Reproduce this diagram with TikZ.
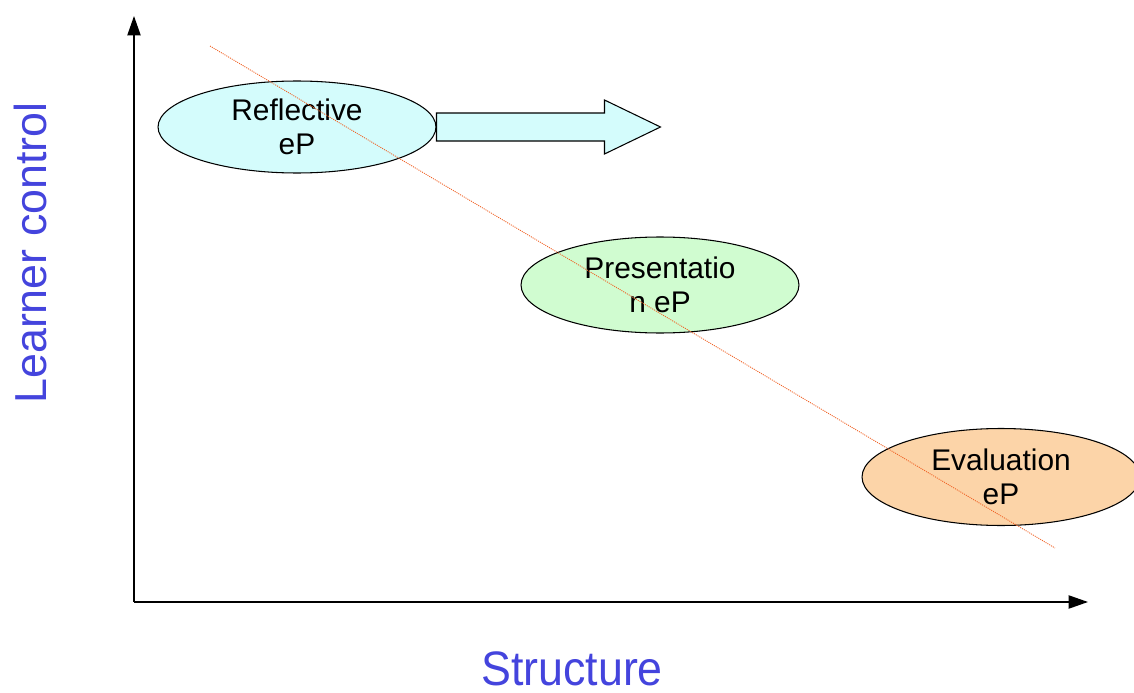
\documentclass[tikz,border=0pt]{standalone}
\usepackage{fontspec}
\setmainfont{Liberation Sans}
\usetikzlibrary{shapes.geometric,arrows.meta}
\definecolor{labelblue}{RGB}{68,68,221}
\definecolor{trendred}{RGB}{240,100,40}
\definecolor{reflfill}{RGB}{212,252,252}
\definecolor{presfill}{RGB}{208,252,208}
\definecolor{evalfill}{RGB}{252,212,168}
\begin{document}
\begin{tikzpicture}[
  x=0.02cm, y=-0.02cm,
  bubble/.style={
    draw,
    ellipse,
    line width=0.6pt,
    inner sep=0pt,
    align=center,
    minimum width=5.56cm,
    font=\fontsize{17}{19}\selectfont
  },
  axislabel/.style={
    text=labelblue,
    inner sep=0pt,
    font=\fontsize{25.5}{28}\selectfont
  },
  axis/.style={line width=0.8pt, -{Triangle[length=11pt,width=7.5pt]}},
  trend/.style={draw=trendred, line width=0.5pt, dash pattern=on 0.6pt off 0.6pt}
]
\useasboundingbox (0,0) rectangle (1134,693);

\coordinate (origin) at (134,602);
\coordinate (ytip) at (134,16);
\coordinate (xtip) at (1088,602);

\node[axislabel, rotate=90, anchor=base] (ylabel) at (47,253) {Learner control};
\node[axislabel, anchor=base] (xlabel) at (572,685) {\scalebox{1}[1.08]{Structure}};

\node[bubble, fill=reflfill, minimum height=1.84cm] (refl) at (297,127) {Reflective\\eP};
\node[bubble, fill=presfill, minimum height=1.92cm] (pres) at (660,285) {Presentatio\\n eP};
\node[bubble, fill=evalfill, minimum height=1.94cm] (eval) at (1001,477) {Evaluation\\eP};

\draw[axis] (origin) -- (ytip);
\draw[axis] (origin) -- (xtip);

% arrow out of the reflective bubble
\draw[line width=0.6pt, fill=reflfill]
  (refl.east) ++(0,-14) -- ++(168,0) -- ++(0,-13) -- ++(56,27)
  -- ++(-56,27) -- ++(0,-13) -- ++(-168,0) -- cycle;

\coordinate (trendstart) at (210,46);
\coordinate (trendend) at (1055,548);
\draw[trend] (trendstart) -- (trendend);
\end{tikzpicture}
\end{document}
